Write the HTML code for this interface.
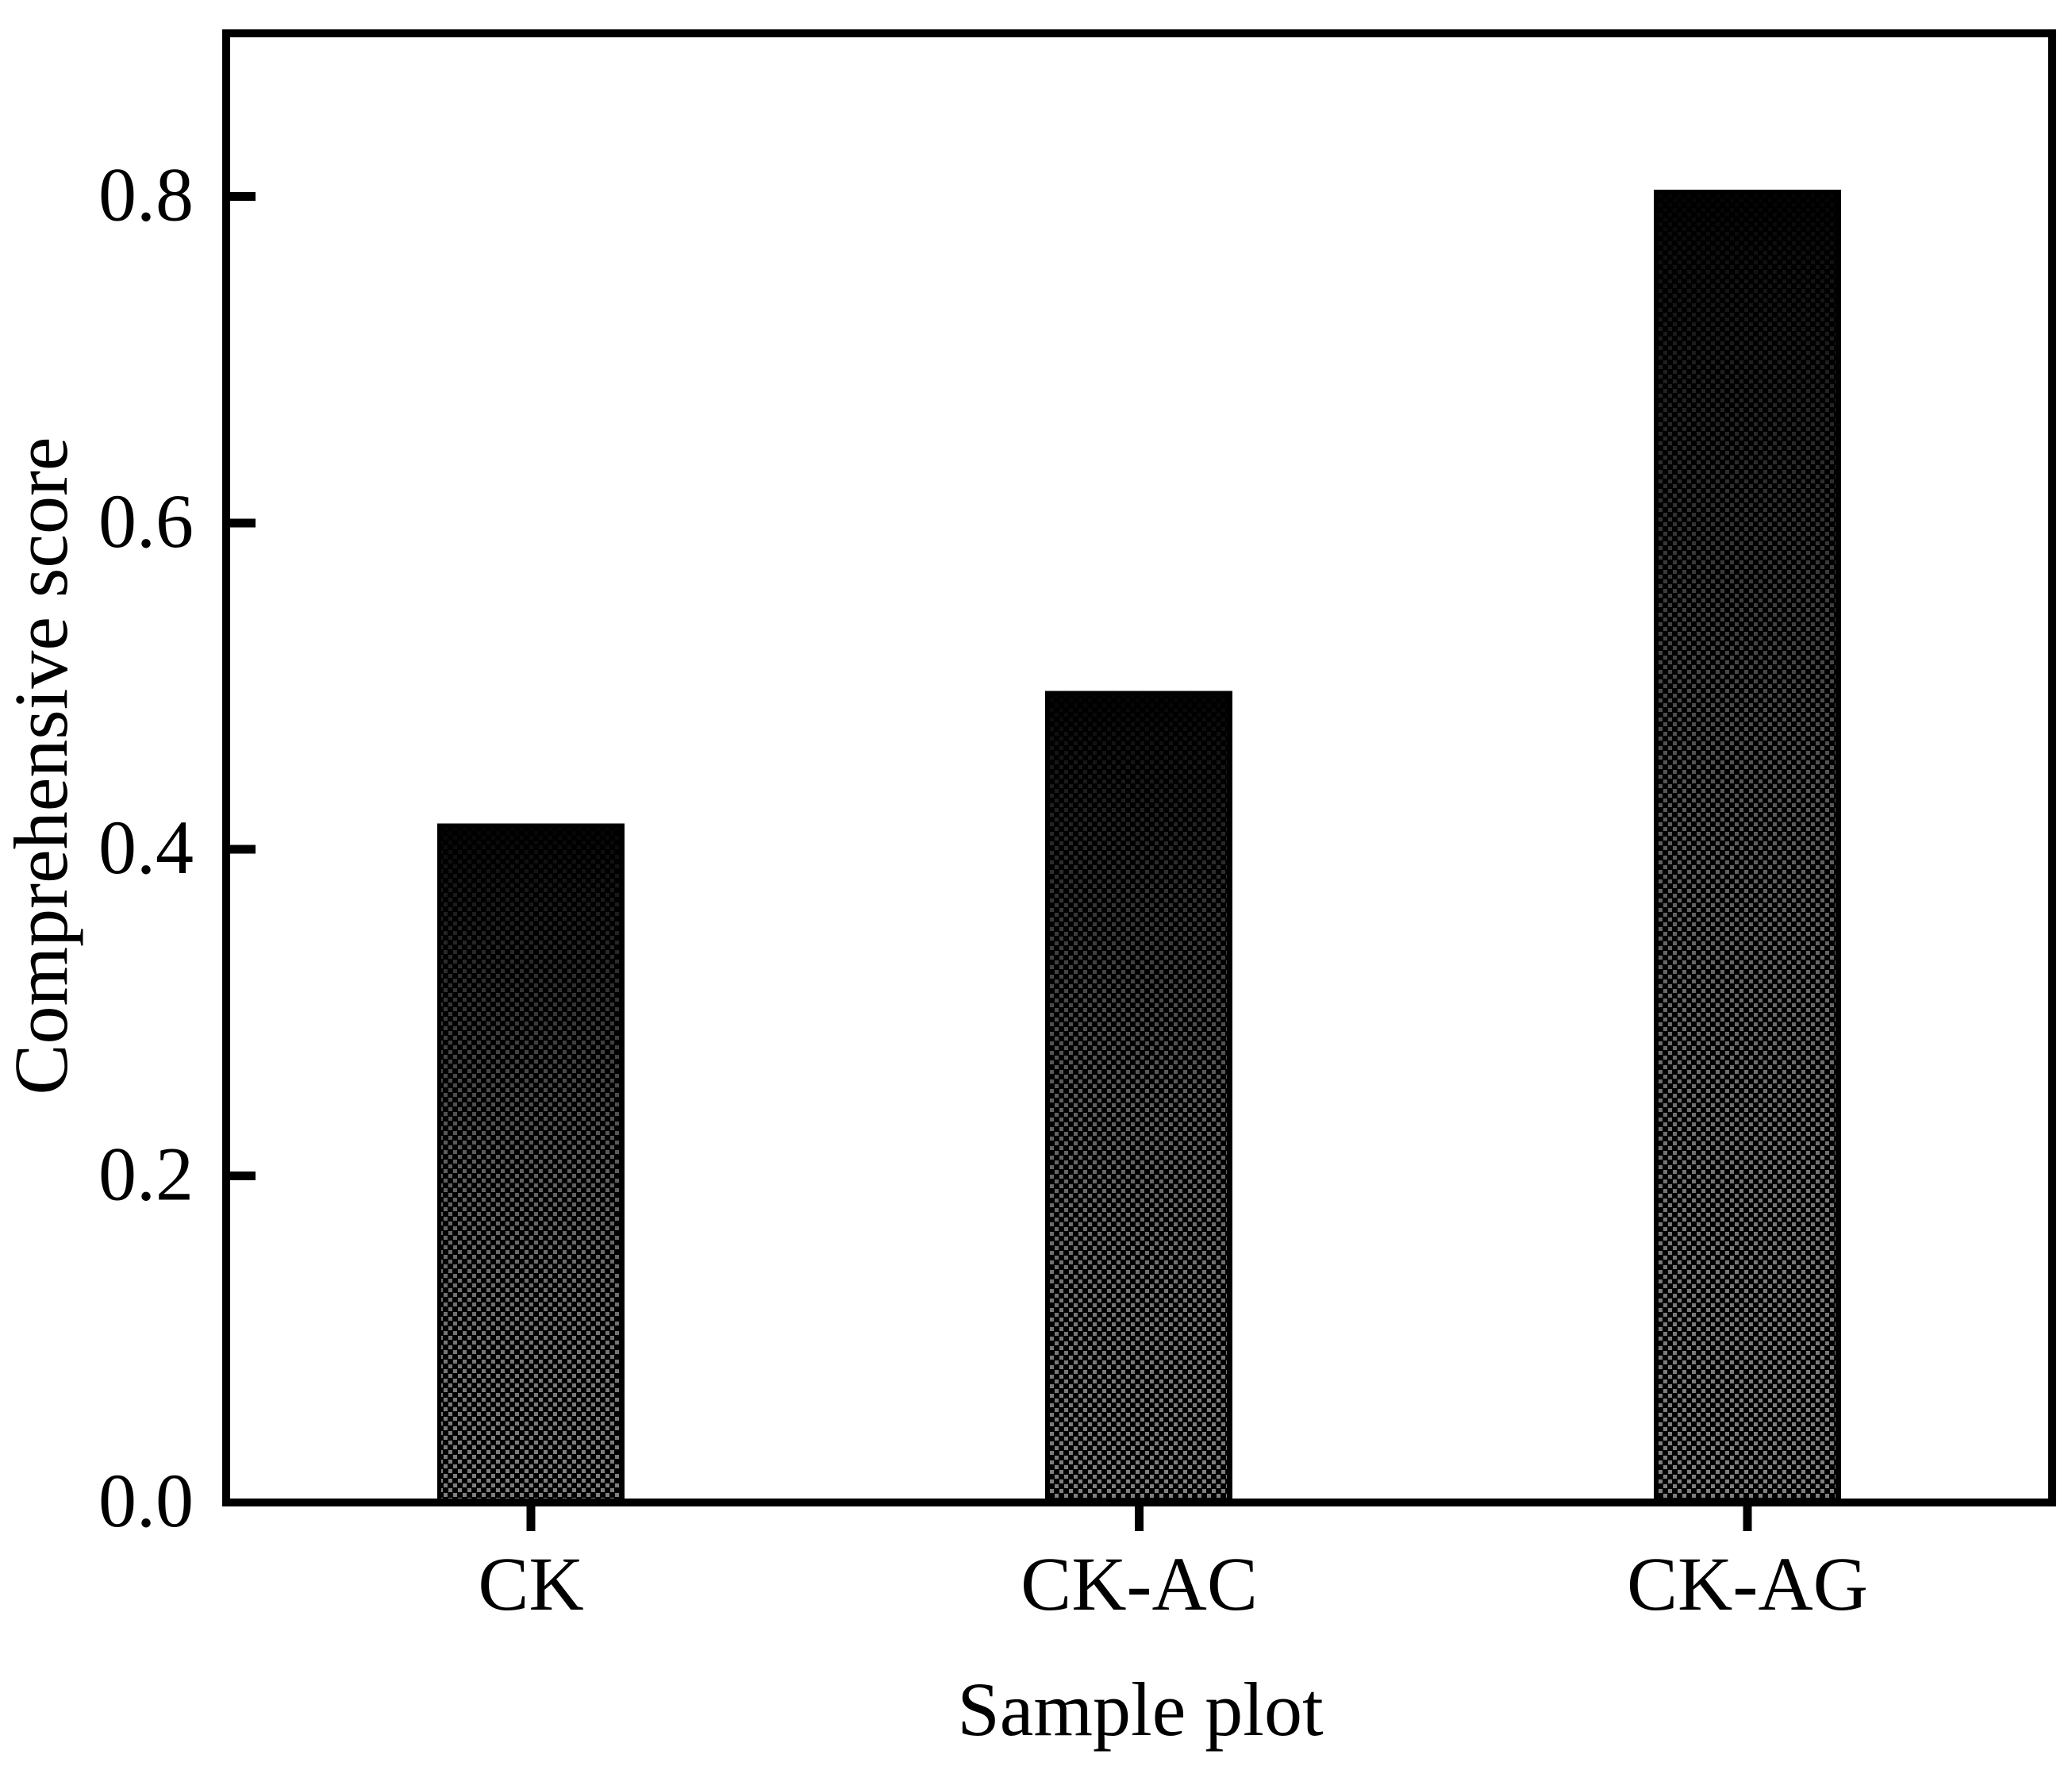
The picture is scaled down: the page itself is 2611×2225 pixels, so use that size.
<!DOCTYPE html>
<html lang="en">
<head>
<meta charset="utf-8">
<title>Comprehensive score by sample plot</title>
<style>
html,body{margin:0;padding:0;background:#fff;width:2611px;height:2225px;overflow:hidden}
svg{display:block}
text{font-family:"Liberation Serif",serif;fill:#000;font-size:96px}
</style>
</head>
<body>
<svg id="chart" xmlns="http://www.w3.org/2000/svg" width="2611" height="2225" viewBox="0 0 2611 2225">
  <defs>
    <linearGradient id="bar-gradient" x1="0" y1="0" x2="0" y2="1">
      <stop offset="0" stop-color="#040404"/>
      <stop offset="0.05" stop-color="#101010"/>
      <stop offset="0.3" stop-color="#3c3c3c"/>
      <stop offset="0.5" stop-color="#5e5e5e"/>
      <stop offset="0.75" stop-color="#747474"/>
      <stop offset="1" stop-color="#808080"/>
    </linearGradient>
    <pattern id="check-0" patternUnits="userSpaceOnUse" x="7" y="9" width="12" height="12">
      <path fill="#000" fill-rule="evenodd" shape-rendering="crispEdges" d="M0 0H12V12H0ZM0 0V5H5V0ZM6 6V11H11V6Z"/>
    </pattern>
    <pattern id="check-1" patternUnits="userSpaceOnUse" x="3" y="4" width="12" height="12">
      <path fill="#000" fill-rule="evenodd" shape-rendering="crispEdges" d="M0 0H12V12H0ZM0 0V5H5V0ZM6 6V11H11V6Z"/>
    </pattern>
    <pattern id="check-2" patternUnits="userSpaceOnUse" x="2" y="4" width="12" height="12">
      <path fill="#000" fill-rule="evenodd" shape-rendering="crispEdges" d="M0 0H12V12H0ZM0 0V5H5V0ZM6 6V11H11V6Z"/>
    </pattern>
  </defs>
  <rect x="0" y="0" width="2611" height="2225" fill="#fff"/>
  <g id="bars"></g>
  <rect x="285" y="42" width="2301" height="1851" fill="none" stroke="#000" stroke-width="10" shape-rendering="crispEdges"/>
  <g id="y-axis"></g>
  <g id="x-axis"></g>
  <text x="1437" y="2186" text-anchor="middle">Sample plot</text>
  <text transform="translate(84,965) rotate(-90)" text-anchor="middle">Comprehensive score</text>
</svg>
<script>
const categories = ['CK', 'CK-AC', 'CK-AG'];
const scores = [0.416, 0.497, 0.804];
const yTickLabels = ['0.0', '0.2', '0.4', '0.6', '0.8'];

const NS = 'http://www.w3.org/2000/svg';
function yScale(v) { return 1893 - v * 2057; }
function xScale(i) { return 669 + i * 766.5; }
const BAR_WIDTH = 236;

function make(tag, attrs, parent) {
  const el = document.createElementNS(NS, tag);
  for (const k in attrs) el.setAttribute(k, attrs[k]);
  parent.appendChild(el);
  return el;
}

const barsGroup = document.getElementById('bars');
scores.forEach(function (value, i) {
  const left = Math.floor(xScale(i) - BAR_WIDTH / 2);
  const top = yScale(value);
  const height = yScale(0) - top;
  const group = make('g', {}, barsGroup);
  
  
  make('rect', { x: left, y: top, width: BAR_WIDTH, height: height, fill: '#000', 'shape-rendering': 'crispEdges' }, group);
  make('rect', { x: left + 5, y: top + 5, width: BAR_WIDTH - 12, height: height - 5, fill: 'url(#bar-gradient)', 'shape-rendering': 'crispEdges' }, group);
  make('rect', { x: left + 5, y: top + 5, width: BAR_WIDTH - 12, height: height - 5, fill: 'url(#check-' + i + ')', 'shape-rendering': 'crispEdges' }, group);
});

const yAxis = document.getElementById('y-axis');
yTickLabels.forEach(function (label) {
  const v = parseFloat(label);
  const y = yScale(v);
  const tick = make('line', { x1: 290, x2: 322, y1: y, y2: y, stroke: '#000', 'stroke-width': v === 0 ? 10 : 11, 'shape-rendering': 'crispEdges' }, yAxis);
  
  
  const t = make('text', { x: 244, y: y + 30, 'text-anchor': 'end' }, yAxis);
  
  
  t.textContent = label;
});

const xAxis = document.getElementById('x-axis');
categories.forEach(function (label, i) {
  const x = xScale(i);
  const tick = make('line', { x1: x, x2: x, y1: 1898, y2: 1929, stroke: '#000', 'stroke-width': 11, 'shape-rendering': 'crispEdges' }, xAxis);
  
  
  const t = make('text', { x: x, y: 2028, 'text-anchor': 'middle' }, xAxis);
  
  
  t.textContent = label;
});
</script>
</body>
</html>
